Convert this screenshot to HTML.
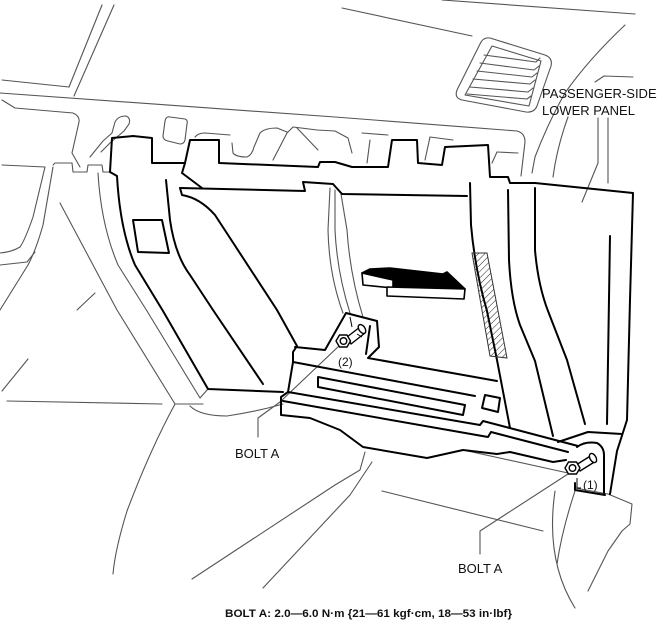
<!DOCTYPE html>
<html><head><meta charset="utf-8"><style>
html,body{margin:0;padding:0;background:#fff;}
svg{display:block;}
text{font-family:"Liberation Sans",Arial,sans-serif;fill:#111;}
</style></head><body>
<svg width="670" height="622" viewBox="0 0 670 622" xmlns="http://www.w3.org/2000/svg">
<defs>
<pattern id="hatch" patternUnits="userSpaceOnUse" width="4.5" height="4.5" patternTransform="rotate(45)">
<line x1="0" y1="0" x2="0" y2="4.5" stroke="#222" stroke-width="1"/>
</pattern>
</defs>
<g fill="none" stroke="#555" stroke-width="1.1" stroke-linejoin="round" stroke-linecap="round">
<path d="M102,5 L69,87"/><path d="M114,5 L74,96"/>
<path d="M2,80 L69,87"/>
<path d="M0,93 L335,117 L517,131 Q525,133 525,142 L521,176"/>
<path d="M342,8 L472,36"/>
<path d="M442,0 L635,14"/>
<path d="M490,38 L545,55 Q553,58 551,66 L537,106 Q534,113 526,112 L462,100 Q454,98 457,90 L480,44 Q483,37 490,38 Z"/>
<path d="M492,46 L541,61 L529,106 L465,95 Z"/>
<path d="M484,55 L536,62 L540,58"/>
<path d="M480,63 L534,70 L539,66"/>
<path d="M477,71 L532,77 L537,73"/>
<path d="M473,79 L530,84 L535,80"/>
<path d="M470,87 L528,92 L533,88"/>
<path d="M467,94 L527,99 L531,96"/>
<path d="M625,25 Q588,60 565,93 Q548,123 535,157 L532,173"/>
<path d="M568,117 Q557,147 553,177"/>
<path d="M598,118 L598,163 L582,202"/>
<path d="M608,118 L608,183"/>
<path d="M595,82 L604,76 L633,77"/>
<path d="M2,100 L15,108 L73,113 Q80,116 79,122 L72,153 L80,167"/>
<path d="M53,165 L55,163 L72,163 L73,172 L87,172 L88,165 L102,165 L103,172 L110,172"/>
<path d="M2,165 L45,167 L33,217 Q25,240 20,247 Q12,252 0,253"/>
<path d="M53,167 L43,225 Q36,250 28,265 L0,310"/>
<path d="M0,265 L27,262 L35,252"/>
<path d="M60,203 L117,310 L175,404"/>
<path d="M98,173 Q101,225 118,265 L147,311 L200,398 L208,389"/>
<path d="M95,293 L77,310"/>
<path d="M90,157 L103,141 L112,133 L115,122 Q118,116 126,116 Q131,118 129,124 L124,131 L110,143 L101,152"/>
<path d="M170,117 L185,119 Q188,120 187,124 L185,140 Q184,144 180,144 L168,141 Q163,140 163,136 L165,121 Q166,116 170,117 Z"/>
<path d="M195,137 Q198,133 205,133 L230,135"/>
<path d="M232,143 L233,153 Q236,157 247,157 Q252,155 254,147 L260,133 Q265,128 277,128 L287,132"/>
<path d="M273,160 L287,133 L293,127 L317,130 L335,131 L348,138 L352,153"/>
<path d="M297,128 L318,150"/>
<path d="M362,133 L388,135"/><path d="M370,140 L367,163"/>
<path d="M430,137 L425,160"/><path d="M430,137 L453,140"/>
<path d="M497,152 L518,153"/><path d="M497,152 L492,163"/>
<path d="M330,188 L328,230 Q329,275 343,313"/>
<path d="M335,190 L335,230 Q337,272 350,313"/>
<path d="M341,194 L347,230 Q350,275 363,317"/>
<path d="M28,359 L2,391"/>
<path d="M7,401 L162,404"/>
<path d="M175,404 Q150,450 127,511 Q115,550 113,574"/>
<path d="M175,404 L203,404"/>
<path d="M190,406 Q200,416 227,416 Q255,412 283,404"/>
<path d="M258,437 L258,418 L280,402 L340,345"/>
<path d="M480,554 L480,531 L568,474"/>
<path d="M463,450 L568,473"/>
<path d="M382,491 L543,531"/>
<path d="M365,452 L360,470 L335,485 L192,579"/>
<path d="M372,462 L350,495 L335,511 L263,588"/>
<path d="M575,488 L608,494 L632,504 L630,524 L622,531 L608,551 L588,591"/>
<path d="M555,491 Q545,560 575,608"/>
<path d="M575,491 Q562,530 557,564"/>
</g>
<g fill="none" stroke="#000" stroke-width="2" stroke-linejoin="round" stroke-linecap="round">
<path d="M110,172 L112,138 L133,136 L152,138 L152,163 L185,163 L190,140 L219,140 L219,163 L318,167 L320,162 L335,162 L352,167 L388,167 L392,140 L417,140 L418,163 L442,165 L445,147 L488,145 L490,177 L508,177 L510,183 L535,183 L633,193 L630,300 L627,420 L617,451 L610,494"/>
<path d="M110,172 L117,176 Q120,230 135,265 L163,311 L208,389 L283,392"/>
<path d="M166,180 L170,220 Q175,255 190,275 L213,310 L263,384"/>
<path d="M133,220 L162,220 L169,253 L138,252 Z"/>
<path d="M185,163 L182,173 L202,188"/>
<path d="M180,188 L305,191 L303,182 L333,184 L342,194 L467,196"/>
<path d="M180,188 L182,195 Q200,198 215,215 L277,310 L297,346"/>
<path d="M297,346 L293,352 L293,362 L288,392 L281,397 L281,415 L310,418 L340,430 L363,447 L427,458 L463,450 L497,454 L510,452 L553,462 L566,460"/>
<path d="M295,347 L325,350 L346,313 L377,321 L379,347 L368,358 L497,381"/>
<path d="M370,326 L366,354"/>
<path d="M293,362 L475,396"/>
<path d="M318,377 L465,405 L463,415 L318,387 Z"/>
<path d="M485,395 L500,398 L498,412 L482,408 Z"/>
<path d="M288,392 L480,425 L483,421 L578,446"/>
<path d="M283,401 L488,437 L491,432 L568,452"/>
<path d="M470,183 L471,225 Q475,270 487,311 L497,360 L510,428"/>
<path d="M508,190 L509,260 Q511,300 520,325 L535,361 L553,436"/>
<path d="M535,188 L535,250 Q538,285 548,311 L567,360 L585,424"/>
<path d="M610,236 L607,424"/>
<path d="M558,442 L588,432 L622,434"/>
<path d="M577,447 Q585,441 597,443 Q604,447 604,455 L604,493"/>
<path d="M575,483 L575,490 L605,495"/>
</g>
<polygon points="472,253 487,253 507,358 490,356" fill="url(#hatch)" stroke="#333" stroke-width="1"/>
<g stroke="#000" stroke-width="1.6" stroke-linejoin="round">
<polygon points="362,273 370,269 390,268 443,274 447,272 465,289 393,287 393,280" fill="#000"/>
<polygon points="362,273 393,280 393,288 363,285" fill="#fff"/>
<polygon points="387,287 465,289 464,299 387,296" fill="#fff"/>
</g>
<g fill="#fff" stroke="#000" stroke-width="1.4" stroke-linejoin="round">
<path d="M347,337 L360,327 L365,333 L351,344 Z"/>
<ellipse cx="362" cy="329" rx="3" ry="5" transform="rotate(-35 362 329)"/>
<polygon points="336,341 339.5,335 347,335 350.5,341 347,347 339.5,347"/>
<circle cx="343.5" cy="341" r="3.3"/>
<path d="M576,465 L592,455 L596,461 L580,471 Z"/>
<ellipse cx="593" cy="458" rx="3" ry="5" transform="rotate(-30 593 458)"/>
<polygon points="565,468 568.5,462 576.5,462 580,468 576.5,474 568.5,474"/>
<circle cx="572.5" cy="468" r="3.3"/>
</g>
<g fill="none" stroke="#000" stroke-width="1">
<path d="M350,317 L352,327"/><path d="M357,334 L362,337"/>
<path d="M577,478 L577,488 L581,488"/>
</g>
<text x="542" y="98" font-size="13">PASSENGER-SIDE</text>
<text x="542" y="115" font-size="13">LOWER PANEL</text>
<text x="338" y="366" font-size="12">(2)</text>
<text x="583" y="489" font-size="12">(1)</text>
<text x="235" y="458" font-size="13">BOLT A</text>
<text x="458" y="573" font-size="13">BOLT A</text>
<text x="225" y="617" font-size="11" font-weight="bold" textLength="287" lengthAdjust="spacingAndGlyphs">BOLT A: 2.0—6.0 N·m {21—61 kgf·cm, 18—53 in·lbf}</text>
</svg>
</body></html>
